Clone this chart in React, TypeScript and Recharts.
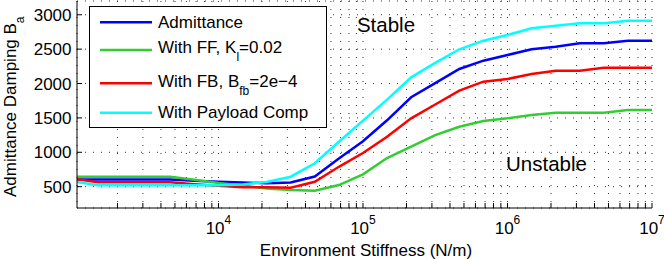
import { LineChart, Line, XAxis, YAxis, CartesianGrid, Legend } from 'recharts';

// environment stiffness, 6 points per decade
const stiffness = [
  1000, 1468, 2154, 3162, 4642, 6813, 10000, 14678, 21544, 31623, 46416, 68129,
  100000, 146780, 215440, 316230, 464160, 681290, 1000000, 1467800, 2154400,
  3162300, 4641600, 6812900, 10000000,
];
const admittance = [
  604, 604, 604, 604, 604, 585, 570, 562, 550, 562, 648, 910, 1160, 1465, 1800,
  2005, 2211, 2332, 2415, 2498, 2535, 2585, 2585, 2623, 2623,
];
const withFF = [
  645, 645, 645, 645, 645, 600, 553, 517, 472, 450, 442, 524, 680, 917, 1081,
  1251, 1372, 1455, 1494, 1542, 1576, 1576, 1576, 1615, 1615,
];
const withFB = [
  613, 563, 563, 563, 563, 536, 513, 490, 490, 485, 572, 789, 990, 1227, 1494,
  1695, 1896, 2027, 2066, 2138, 2186, 2186, 2230, 2230, 2230,
];
const withPayload = [
  575, 520, 520, 520, 520, 520, 520, 532, 568, 645, 840, 1154, 1460, 1765, 2090,
  2300, 2498, 2623, 2706, 2803, 2841, 2876, 2876, 2914, 2914,
];

const majorTicks = [10000, 100000, 1000000, 10000000];
const xTicks = [
  2000, 3000, 4000, 5000, 6000, 7000, 8000, 9000,
  10000, 20000, 30000, 40000, 50000, 60000, 70000, 80000, 90000,
  100000, 200000, 300000, 400000, 500000, 600000, 700000, 800000, 900000,
  1000000, 2000000, 3000000, 4000000, 5000000, 6000000, 7000000, 8000000, 9000000,
  10000000,
];
const yTicks = [500, 1000, 1500, 2000, 2500, 3000];

const data = stiffness.map((k, i) => ({
  k,
  admittance: admittance[i],
  ff: withFF[i],
  fb: withFB[i],
  payload: withPayload[i],
}));

const FONT = '"Liberation Sans", Arial, sans-serif';
const xDomain = [1050, 10000000];
const yDomain = [190, 3200];

const XTick = ({ x, y, payload }: any) => {
  if (!majorTicks.includes(payload.value)) return <g />;
  const exp = Math.round(Math.log10(payload.value));
  return (
    <text x={x} y={y + 31} textAnchor="middle" fontSize={17} fill="#000" fontFamily={FONT}>
      10<tspan dy={-10} fontSize={12}>{exp}</tspan>
    </text>
  );
};

const LegendBox = () => (
  <svg width={239} height={123} style={{ display: 'block' }}>
    <rect x={0.5} y={0.5} width={237} height={121} fill="#fff" stroke="#000" />
    <g fontSize={17} fontFamily={FONT} fill="#000">
      <line x1={11} x2={63} y1={16.3} y2={16.3} stroke="#0000ff" strokeWidth={2.5} />
      <text x={69} y={22.3}>Admittance</text>
      <line x1={11} x2={63} y1={44} y2={44} stroke="#33cc33" strokeWidth={2.5} />
      <text x={69} y={47.3}>
        With FF, K<tspan dy={8} fontSize={12}>l</tspan>
        <tspan dy={-8}>=0.02</tspan>
      </text>
      <line x1={11} x2={63} y1={77.3} y2={77.3} stroke="#ff0000" strokeWidth={2.5} />
      <text x={69} y={80.7}>
        With FB, B<tspan dy={8} fontSize={12}>fb</tspan>
        <tspan dy={-8}>=2e−4</tspan>
      </text>
      <line x1={11} x2={63} y1={106.7} y2={106.7} stroke="#00ffff" strokeWidth={2.5} />
      <text x={69} y={112.3}>With Payload Comp</text>
    </g>
  </svg>
);

export default function App() {
  return (
    <div style={{ position: 'absolute', left: 0, top: 0, width: 664, height: 259, background: '#fff', fontFamily: FONT }}>
      <LineChart width={664} height={259} data={data} margin={{ top: 1, right: 12, bottom: 0, left: 0 }}>
        <CartesianGrid stroke="#333" strokeDasharray="1 7" />
        <XAxis
          dataKey="k"
          type="number"
          scale="log"
          domain={xDomain}
          allowDataOverflow
          ticks={xTicks}
          interval={0}
          height={51}
          tickSize={-5}
          tickMargin={0}
          tick={<XTick />}
          axisLine={{ stroke: '#000' }}
          tickLine={{ stroke: '#000' }}
        />
        <XAxis
          xAxisId="top"
          orientation="top"
          type="number"
          scale="log"
          domain={xDomain}
          allowDataOverflow
          ticks={xTicks}
          interval={0}
          height={0}
          tickSize={-5}
          tick={false}
          axisLine={{ stroke: '#000' }}
          tickLine={{ stroke: '#000' }}
        />
        <YAxis
          type="number"
          domain={yDomain}
          allowDataOverflow
          ticks={yTicks}
          interval={0}
          width={77}
          tickSize={-5}
          tickMargin={10.5}
          tick={{ fill: '#000', fontSize: 17, fontFamily: FONT }}
          axisLine={{ stroke: '#000' }}
          tickLine={{ stroke: '#000' }}
        />
        <YAxis
          yAxisId="right"
          orientation="right"
          type="number"
          domain={yDomain}
          allowDataOverflow
          ticks={yTicks}
          interval={0}
          width={0}
          tickSize={-5}
          tick={false}
          axisLine={{ stroke: '#000' }}
          tickLine={{ stroke: '#000' }}
        />
        <Legend
          layout="vertical"
          align="center"
          verticalAlign="middle"
          width={239}
          height={123}
          wrapperStyle={{ left: 89, top: 6, width: 239, height: 123 }}
          content={() => <LegendBox />}
        />
        <Line dataKey="admittance" stroke="#0000ff" strokeWidth={2.5} dot={false} isAnimationActive={false} />
        <Line dataKey="ff" stroke="#33cc33" strokeWidth={2.5} dot={false} isAnimationActive={false} />
        <Line dataKey="fb" stroke="#ff0000" strokeWidth={2.5} dot={false} isAnimationActive={false} />
        <Line dataKey="payload" stroke="#00ffff" strokeWidth={2.5} dot={false} isAnimationActive={false} />
        <text x={386} y={31.7} textAnchor="middle" fontSize={20.5} fontFamily={FONT} fill="#000">Stable</text>
        <text x={546.5} y={170.5} textAnchor="middle" fontSize={20.5} fontFamily={FONT} fill="#000">Unstable</text>
        <text transform="rotate(-90)" x={-197} y={15.5} fontSize={17} fontFamily={FONT} fill="#000">
          Admittance Damping B<tspan dy={8} fontSize={12}>a</tspan>
        </text>
        <text x={366} y={255.5} textAnchor="middle" fontSize={17} fontFamily={FONT} fill="#000">
          Environment Stiffness (N/m)
        </text>
      </LineChart>
    </div>
  );
}
